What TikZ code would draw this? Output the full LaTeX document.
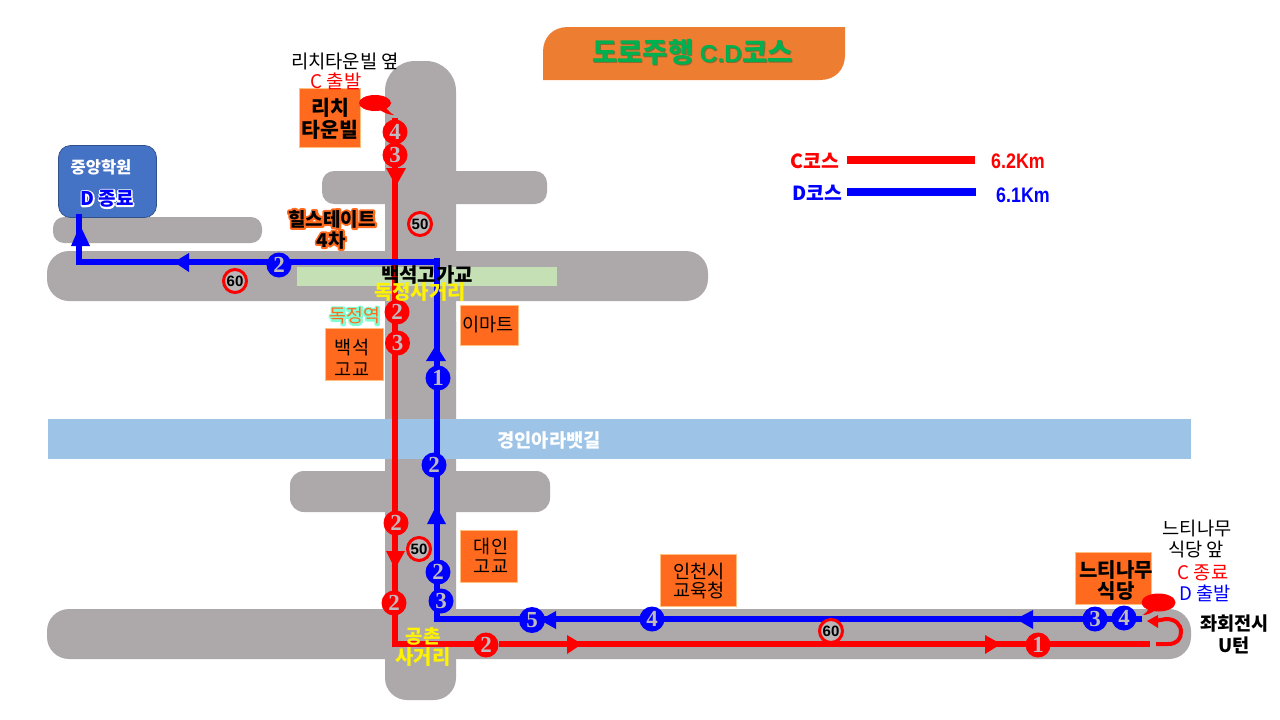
\documentclass[tikz,border=0pt]{standalone}
\usepackage{fontspec}
\setmainfont{Noto Sans CJK KR}
\newfontfamily\numf{Liberation Serif}
\newfontfamily\latf{Liberation Sans}
\newfontfamily\latn{Liberation Sans}[FakeStretch=0.85]
\definecolor{road}{HTML}{ADA9AA}
\definecolor{boxo}{HTML}{FF6A1F}
\definecolor{ttl}{HTML}{ED7D31}
\definecolor{canal}{HTML}{9DC3E6}
\definecolor{bridge}{HTML}{C5E0B4}
\definecolor{acad}{HTML}{4472C4}
\definecolor{numg}{HTML}{BEBAC0}
\definecolor{grn}{HTML}{00B050}
\definecolor{shad}{HTML}{8A6A30}
\newcommand{\fs}[1]{\fontsize{#1}{#1}\selectfont}
% text with a stroked halo: #1 stroke width, #2 rgb of the stroke, #3 text
\newcommand{\halo}[3]{\leavevmode\rlap{\special{pdf:code 1 Tr #1 w 1 j #2 RG}#3\special{pdf:code 0 Tr 1 w 0 j}}#3}
\newcommand{\dropshadow}[1]{\leavevmode\rlap{\kern1pt\raisebox{-1pt}{\color{shad}#1}}#1}
\tikzset{
 roadr/.style={fill=road,draw=none},
 placebox/.style={fill=boxo,draw=orange!50!white,line width=0.6pt,inner sep=0pt},
 placetxt/.style={inner sep=0pt,align=center,text=black,font=\fs{18.6}},
 placetxb/.style={placetxt,font=\fs{20}\bfseries},
 rnum/.style={circle,fill=red,minimum size=25pt,inner sep=0pt,text=numg,font=\numf\fs{23}\bfseries},
 bnum/.style={circle,fill=blue,minimum size=25pt,inner sep=0pt,text=numg,font=\numf\fs{23}\bfseries},
 speed/.style={circle,fill=road!85!white,draw=red,line width=3pt,minimum size=23pt,inner sep=0pt,text=black,font=\latf\fs{15}\bfseries},
 rline/.style={draw=red,line width=6pt},
 bline/.style={draw=blue,line width=6pt},
 txt/.style={inner sep=0pt,align=center},
 rtip/.style={fill=red,draw=none},
 btip/.style={fill=blue,draw=none}
}
\begin{document}
\begin{tikzpicture}[x=1pt,y=-1pt]
\useasboundingbox (0,0) rectangle (1280,720);
% roads
\fill[roadr,rounded corners=22pt] (47,609) rectangle (1191,659);
\fill[roadr,rounded corners=22pt] (47,251) rectangle (708,301);
\fill[roadr,rounded corners=12pt] (322,171) rectangle (547,204);
\fill[roadr,rounded corners=11pt] (53,217) rectangle (262,243);
\fill[roadr,rounded corners=14pt] (290,471) rectangle (550,512);
\fill[roadr,rounded corners=30pt] (385,61) -- (456,61) -- (456,400) -- (385,400) -- cycle;
\fill[roadr,rounded corners=22pt] (385,300) -- (456,300) -- (456,700) -- (385,700) -- cycle;
\fill[bridge] (297,267) rectangle (557,286);
\fill[canal] (48,419) rectangle (1191,459);
% title
\fill[ttl] (543,80) -- (543,52) .. controls (543,37) and (553,27) .. (568,27) -- (845,27) -- (845,55) .. controls (845,70) and (835,80) .. (820,80) -- cycle;
\node[txt,font=\fs{27.5}\bfseries,text=grn] (title) at (692.5,53) {\dropshadow{도로주행 {\latf\fs{24.5}C.D}코스}};
% legend
\node[txt,text=red,font=\fs{19.4}\bfseries] (lc) at (815,161) {C코스};
\node[txt,text=blue,font=\fs{19.4}\bfseries] (ld) at (817,193) {D코스};
\coordinate (lc1) at (847,160); \coordinate (lc2) at (975,160);
\coordinate (ld1) at (847,192); \coordinate (ld2) at (976,192);
\draw[red,line width=8pt] (lc1) -- (lc2);
\draw[blue,line width=8pt] (ld1) -- (ld2);
\node[txt,text=red,font=\latn\fs{21}\bfseries] (lck) at (1018,161) {6.2Km};
\node[txt,text=blue,font=\latn\fs{21}\bfseries] (ldk) at (1023,195) {6.1Km};
% places
\node[placebox,minimum width=61pt,minimum height=59pt] (rich) at (330,118) {};
\node[placetxb,font=\fs{20.5}\bfseries] (richt) at (330,119) {리치\\[1.5pt]타운빌};
\node[placebox,minimum width=58pt,minimum height=52pt] (baek) at (354.5,354.5) {};
\node[placetxt] (baekt) at (352,358) {백석\\[3pt]고교};
\node[placebox,minimum width=58pt,minimum height=40pt] (emart) at (489.5,325.5) {};
\node[placetxt] (emartt) at (488,325) {이마트};
\node[placebox,minimum width=57pt,minimum height=52pt] (daein) at (489,556.5) {};
\node[placetxt] (daeint) at (491,556) {대인\\[1pt]고교};
\node[placebox,minimum width=76pt,minimum height=52pt] (edu) at (698.5,580.5) {};
\node[placetxt] (edut) at (699,581) {인천시\\[1pt]교육청};
\node[placebox,minimum width=76pt,minimum height=52pt] (neuti) at (1113.5,578) {};
\node[placetxb] (neutit) at (1116,581) {느티나무\\[1pt]식당};
\node[draw=acad!70!black,fill=acad,rounded corners=12pt,minimum width=98pt,minimum height=72pt,line width=0.7pt] (acadbox) at (107.5,181.5) {};
\node[txt,text=white,font=\fs{16.5}\bfseries] (acad1) at (101,167) {중앙학원};
\node[txt,text=blue,font=\fs{19}\bfseries] (acad2) at (107,199) {\halo{3}{1 1 1}{D 종료}};
% route coords
\coordinate (r0) at (395,118);
\coordinate (rc) at (395,644);
\coordinate (r2) at (1150,644);
\coordinate (u0) at (1156,644);
\coordinate (b0) at (437,619);
\coordinate (b1) at (437,258);
\coordinate (bc) at (437,262);
\coordinate (b2) at (79,262);
\coordinate (b3) at (79,214);
\coordinate (b4) at (1142,619);
\coordinate (rgap) at (499,644);
% routes
\draw[rline,line join=miter] (r0) -- (rc) -- (480,644);
\draw[rline] (rgap) -- (r2);
\draw[bline,line join=miter] (b4) -- (b0) -- (b1);
\draw[bline,line join=miter] (bc) -- (b2) -- (b3);
\draw[draw=red,line width=4pt,line cap=butt] (u0) -- (1168,644) .. controls (1177,644) and (1181,639) .. (1181,632) .. controls (1181,624) and (1175,619) .. (1166,619) -- (1155,621);
% arrow heads
\fill[rtip] (386,168) -- (406,168) -- (396,186) -- cycle;
\fill[rtip] (386,551) -- (405,551) -- (395,569) -- cycle;
\fill[rtip] (567,635) -- (582,644) -- (567,654) -- cycle;
\fill[rtip] (985,635) -- (1001,644) -- (985,654) -- cycle;
\fill[rtip] (1147,621) -- (1158,615) -- (1158,628) -- cycle;
\fill[btip] (426,361) -- (446,361) -- (436,345) -- cycle;
\fill[btip] (427,524) -- (446,524) -- (436,506) -- cycle;
\fill[btip] (540,620) -- (556,611) -- (556,629) -- cycle;
\fill[btip] (1016,619) -- (1033,610) -- (1033,629) -- cycle;
\fill[btip] (174,262) -- (189,253) -- (189,272) -- cycle;
\fill[btip] (71,246) -- (90,246) -- (80,225) -- cycle;
% numbers
\node[rnum] (r4a) at (395,132) {4};
\node[rnum] (r3a) at (395,155) {3};
\node[rnum] (r2a) at (397,312) {2};
\node[rnum] (r3b) at (397.5,343) {3};
\node[rnum] (r2b) at (396,523) {2};
\node[rnum] (r2c) at (394,603) {2};
\node[rnum] (r2d) at (486,645) {2};
\node[rnum] (r1a) at (1038,645) {1};
\node[bnum] (b1a) at (438,378) {1};
\node[bnum] (b2a) at (434,465) {2};
\node[bnum] (b2b) at (438,572) {2};
\node[bnum] (b3a) at (441,601) {3};
\node[bnum,minimum size=26pt] (b5a) at (532,620) {5};
\node[bnum] (b4a) at (652,619) {4};
\node[bnum] (b3b) at (1095,619) {3};
\node[bnum] (b4b) at (1124,618) {4};
\node[bnum] (b2c) at (279,265) {2};
% speed
\node[speed] (s50a) at (420,224) {50};
\node[speed] (s50b) at (419,549) {50};
\node[speed] (s60a) at (235,281) {60};
\node[speed] (s60b) at (831,631) {60};
% bubbles
\fill[red] (375,103) ellipse [x radius=16, y radius=8];
\fill[red] (384,106) .. controls (388,110) and (390,113) .. (394,115) .. controls (390,115) and (384,113) .. (380,110) -- cycle;
\fill[red] (1158.5,602.5) ellipse [x radius=17, y radius=9];
\fill[red] (1149,607) .. controls (1148,611) and (1146,613) .. (1143,615) .. controls (1147,615) and (1152,613) .. (1155,610) -- cycle;
% labels
\node[txt,font=\fs{18.8}] (t1) at (345,61) {리치타운빌 옆};
\node[txt,font=\fs{18.8},text=red] (t2) at (336,81) {C 출발};
\node[txt,font=\fs{19}\bfseries,text=black] (hill1) at (332,219) {\halo{4}{1 0.416 0.12}{힐스테이트}};
\node[txt,font=\fs{19}\bfseries,text=black] (hill2) at (331,240) {\halo{4}{1 0.416 0.12}{4차}};
\node[txt,font=\fs{20}\bfseries] (bk) at (427,275) {백석고가교};
\node[txt,font=\fs{20}\bfseries,text=yellow] (dj) at (420,292) {독정사거리};
\node[txt,font=\fs{18.3},text=boxo] (djst) at (355,316) {\halo{4}{0.5 1 0.83}{독정역}};
\node[txt,font=\fs{18.8}\bfseries,text=white] (ara) at (549,440) {경인아라뱃길};
\node[txt,font=\fs{19}\bfseries,text=yellow] (gc1) at (423,636) {공촌};
\node[txt,font=\fs{20}\bfseries,text=yellow] (gc2) at (423,657) {사거리};
\node[txt,font=\fs{18.7}] (t3) at (1197,528) {느티나무};
\node[txt,font=\fs{18.7}] (t4) at (1196,549) {식당 앞};
\node[txt,font=\fs{18.7},text=red] (t5) at (1203,573) {C 종료};
\node[txt,font=\fs{18.7},text=blue] (t6) at (1205,593) {D 출발};
\node[txt,font=\fs{18.6}\bfseries] (t7) at (1234.5,624) {좌회전시};
\node[txt,font=\fs{18.6}\bfseries] (t8) at (1234,645) {U턴};
\end{tikzpicture}
\end{document}
